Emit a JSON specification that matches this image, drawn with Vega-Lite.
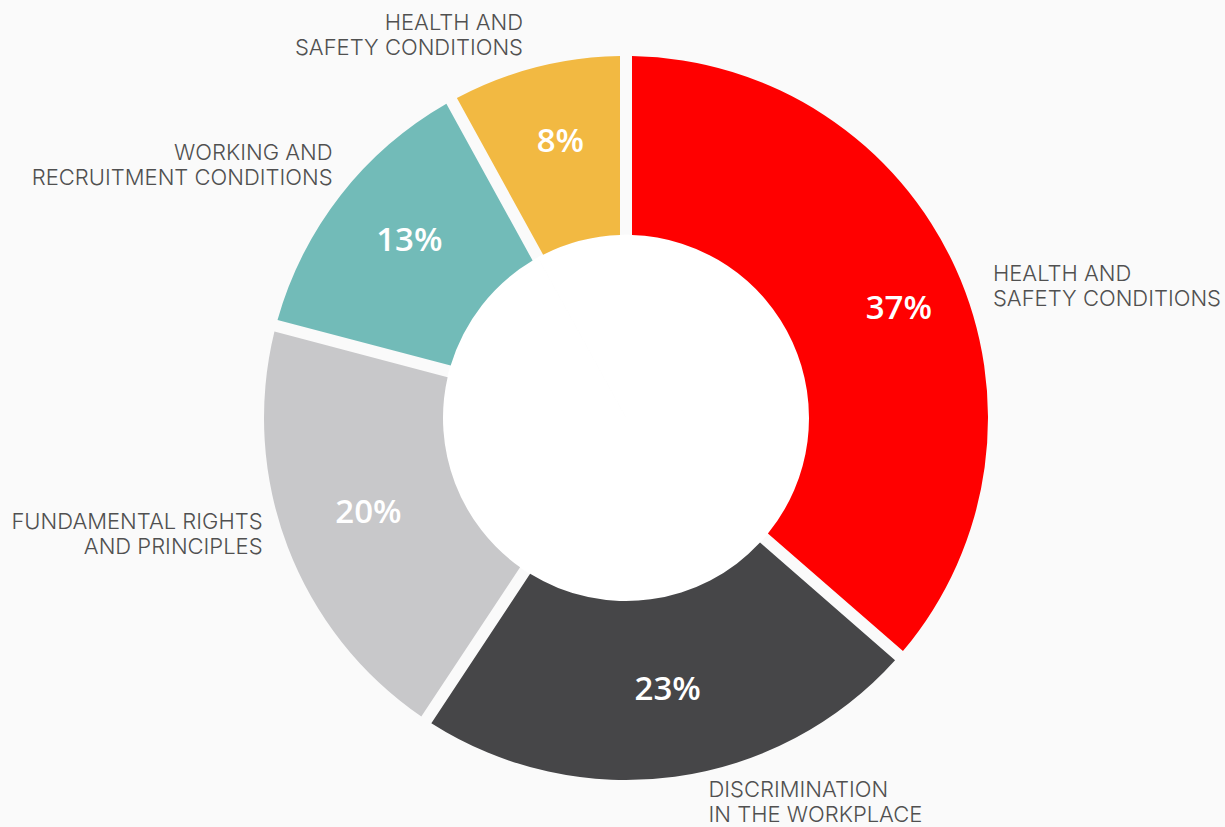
{
  "$schema": "https://vega.github.io/schema/vega-lite/v6.json",
  "width": 1198,
  "height": 818,
  "autosize": {"type": "none"},
  "padding": {"left": 27, "top": 9, "right": 0, "bottom": 0},
  "background": "#fafafa",
  "config": {"view": {"stroke": null}},
  "data": {
    "values": [
      {"key": "A", "value": 36.4, "pct": "37%", "lines": ["HEALTH AND", "SAFETY CONDITIONS"], "order": 1},
      {"key": "B", "value": 22.9, "pct": "23%", "lines": ["DISCRIMINATION", "IN THE WORKPLACE"], "order": 2},
      {"key": "C", "value": 19.8, "pct": "20%", "lines": ["FUNDAMENTAL RIGHTS", "AND PRINCIPLES"], "order": 3},
      {"key": "D", "value": 12.9, "pct": "13%", "lines": ["WORKING AND", "RECRUITMENT CONDITIONS"], "order": 4},
      {"key": "E", "value": 8.0, "pct": "8%", "lines": ["HEALTH AND", "SAFETY CONDITIONS"], "order": 5}
    ]
  },
  "encoding": {
    "theta": {"field": "value", "type": "quantitative", "stack": true},
    "order": {"field": "order", "type": "quantitative"}
  },
  "layer": [
    {
      "mark": {"type": "arc", "outerRadius": 183, "fill": "#ffffff", "stroke": "#ffffff", "strokeWidth": 1}
    },
    {
      "mark": {"type": "arc", "outerRadius": 362, "innerRadius": 183, "padAngle": 0.0296},
      "encoding": {
        "color": {
          "field": "key",
          "type": "nominal",
          "scale": {"domain": ["A", "B", "C", "D", "E"], "range": ["#ff0000", "#464648", "#c8c8ca", "#72bbb8", "#f2b942"]},
          "legend": null
        }
      }
    },
    {
      "mark": {"type": "text", "radius": 280, "dx": 4, "dy": -5, "font": "Open Sans", "fontWeight": 600, "fontSize": 33, "fill": "#ffffff", "align": "center", "baseline": "middle"},
      "encoding": {"text": {"field": "pct", "type": "nominal", "condition": {"test": "datum.key === 'A'", "value": ""}}}
    },
    {
      "mark": {"type": "text", "radius": 280, "dx": 18, "dy": 7, "font": "Open Sans", "fontWeight": 600, "fontSize": 33, "fill": "#ffffff", "align": "center", "baseline": "middle"},
      "encoding": {"text": {"field": "pct", "type": "nominal", "condition": {"test": "datum.key !== 'A'", "value": ""}}}
    },
    {
      "mark": {"type": "text", "radius": 390, "dx": 12, "dy": 18, "font": "Inter", "fontWeight": 300, "fontSize": 22, "lineHeight": 25, "fill": "#505050", "align": "left", "baseline": "middle"},
      "encoding": {"text": {"field": "lines", "type": "nominal", "condition": {"test": "datum.key !== 'A'", "value": ""}}}
    },
    {
      "mark": {"type": "text", "radius": 390, "dx": 30, "dy": -14, "font": "Inter", "fontWeight": 300, "fontSize": 22, "lineHeight": 25, "fill": "#505050", "align": "left", "baseline": "middle"},
      "encoding": {"text": {"field": "lines", "type": "nominal", "condition": {"test": "datum.key !== 'B'", "value": ""}}}
    },
    {
      "mark": {"type": "text", "radius": 390, "dx": 1, "dy": -35, "font": "Inter", "fontWeight": 300, "fontSize": 22, "lineHeight": 25, "fill": "#505050", "align": "right", "baseline": "middle"},
      "encoding": {"text": {"field": "lines", "type": "nominal", "condition": {"test": "datum.key !== 'C'", "value": ""}}}
    },
    {
      "mark": {"type": "text", "radius": 390, "dx": 14, "dy": -25, "font": "Inter", "fontWeight": 300, "fontSize": 22, "lineHeight": 25, "fill": "#505050", "align": "right", "baseline": "middle"},
      "encoding": {"text": {"field": "lines", "type": "nominal", "condition": {"test": "datum.key !== 'D'", "value": ""}}}
    },
    {
      "mark": {"type": "text", "radius": 390, "dx": -6, "dy": -17, "font": "Inter", "fontWeight": 300, "fontSize": 22, "lineHeight": 25, "fill": "#505050", "align": "right", "baseline": "middle"},
      "encoding": {"text": {"field": "lines", "type": "nominal", "condition": {"test": "datum.key !== 'E'", "value": ""}}}
    }
  ]
}
